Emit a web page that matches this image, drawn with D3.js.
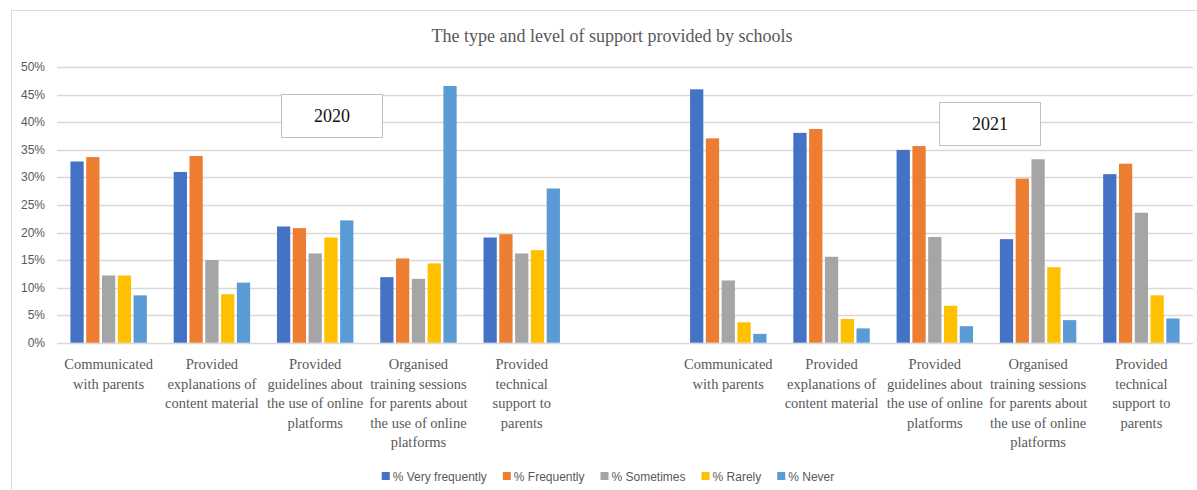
<!DOCTYPE html>
<meta charset="utf-8">
<title>Support provided by schools</title>
<style>
  body { margin: 0; background: #fff; }
  .serif { font-family: 'Palatino Linotype', 'Book Antiqua', 'Liberation Serif', serif; }
  .sans { font-family: 'Liberation Sans', Arial, sans-serif; }
</style>
<body>
<svg width="1197" height="490"></svg>
<script src="https://cdn.jsdelivr.net/npm/d3@7"></script>
<script>
// --- data ---
var years = ["2020", "2021"];
var series = ["% Very frequently", "% Frequently", "% Sometimes", "% Rarely", "% Never"];
var colors = ["#4472C4", "#ED7D31", "#A5A5A5", "#FFC000", "#5B9BD5"];
var labels = [
  ["Communicated", "with parents"],
  ["Provided", "explanations of", "content material"],
  ["Provided", "guidelines about", "the use of online", "platforms"],
  ["Organised", "training sessions", "for parents about", "the use of online", "platforms"],
  ["Provided", "technical", "support to", "parents"]
];
// one row per category, columns follow `series`
var values2020 = [
  [32.9, 33.7, 12.2, 12.2, 8.6],
  [31.0, 33.9, 15.0, 8.8, 10.9],
  [21.1, 20.8, 16.2, 19.1, 22.2],
  [11.9, 15.3, 11.6, 14.4, 46.6],
  [19.1, 19.7, 16.2, 16.8, 28.0]
];
var values2021 = [
  [46.0, 37.1, 11.3, 3.7, 1.6],
  [38.1, 38.8, 15.6, 4.3, 2.6],
  [35.0, 35.7, 19.2, 6.7, 3.0],
  [18.8, 29.8, 33.3, 13.7, 4.1],
  [30.6, 32.5, 23.6, 8.6, 4.4]
];
var yTicks = [0, 5, 10, 15, 20, 25, 30, 35, 40, 45, 50];

// category keys: five for 2020, one empty slot, five for 2021
var rows = [];
labels.forEach(function (l, i) { rows.push({key: "a" + i, lines: l, vals: values2020[i]}); });
rows.push({key: "gap", lines: [], vals: []});
labels.forEach(function (l, i) { rows.push({key: "b" + i, lines: l, vals: values2021[i]}); });

var svg = d3.select("svg");
var grey = "#595959";

// chart frame
svg.append("rect")
  .attr("x", 11.5).attr("y", 10.5).attr("width", 1200).attr("height", 490)
  .attr("fill", "none").attr("stroke", "#D9D9D9");

var x = d3.scaleBand().domain(rows.map(function (d) { return d.key; }))
  .range([57, 1193]).paddingInner(0.26).paddingOuter(0.13);
var xs = d3.scaleBand().domain(series).range([0, x.bandwidth()]).paddingInner(0.16);
var y = d3.scaleLinear().domain([0, 50]).range([342.7, 67.3]);

// grid
svg.append("g").selectAll("line").data(yTicks).enter().append("line")
  .attr("x1", 57).attr("x2", 1193)
  .attr("y1", function (d) { return Math.round(y(d)) + 0.5; })
  .attr("y2", function (d) { return Math.round(y(d)) + 0.5; })
  .attr("stroke", "#D9D9D9").attr("stroke-width", 1.3);

svg.append("g").selectAll("text").data(yTicks).enter().append("text")
  .attr("class", "sans")
  .attr("x", 45).attr("y", function (d) { return y(d) + 4; })
  .attr("text-anchor", "end").attr("font-size", 12).attr("fill", grey)
  .text(function (d) { return d + "%"; });

// bars
var groups = svg.append("g").selectAll("g").data(rows).enter().append("g")
  .attr("transform", function (d) { return "translate(" + x(d.key) + ",0)"; });
groups.selectAll("rect").data(function (d) { return d.vals; }).enter().append("rect")
  .attr("x", function (d, i) { return xs(series[i]); })
  .attr("width", xs.bandwidth())
  .attr("y", function (d) { return y(d); })
  .attr("height", function (d) { return y(0) - y(d); })
  .attr("fill", function (d, i) { return colors[i]; });

// category labels
groups.append("text").attr("class", "serif")
  .attr("text-anchor", "middle").attr("font-size", 14.5).attr("fill", grey)
  .selectAll("tspan").data(function (d) { return d.lines; }).enter().append("tspan")
  .attr("x", x.bandwidth() / 2)
  .attr("y", function (d, i) { return 369 + i * 19.6; })
  .text(function (d) { return d; });

// title
svg.append("text").attr("class", "serif")
  .attr("x", 612).attr("y", 42).attr("text-anchor", "middle")
  .attr("font-size", 18).attr("fill", grey)
  .text("The type and level of support provided by schools");

// year boxes (text boxes placed on the chart)
var boxes = [{x: 281, y: 94, label: years[0]}, {x: 939, y: 102, label: years[1]}];
var bx = svg.append("g").selectAll("g").data(boxes).enter().append("g")
  .attr("transform", function (d) { return "translate(" + d.x + "," + d.y + ")"; });
bx.append("rect").attr("x", 0.5).attr("y", 0.5).attr("width", 101).attr("height", 43)
  .attr("fill", "#fff").attr("stroke", "#BFBFBF");
bx.append("text").attr("class", "serif")
  .attr("x", 51).attr("y", 28).attr("text-anchor", "middle")
  .attr("font-size", 18).attr("fill", "#111")
  .text(function (d) { return d.label; });

// legend
var legend = svg.append("g");
var lx = 0;
series.forEach(function (s, i) {
  var g = legend.append("g").attr("transform", "translate(" + lx + ",0)");
  g.append("rect").attr("x", 0).attr("y", -4).attr("width", 8).attr("height", 8).attr("fill", colors[i]);
  var t = g.append("text").attr("class", "sans").attr("x", 11).attr("y", 4.5)
    .attr("font-size", 12).attr("fill", grey).text(s);
  lx += 11 + t.node().getComputedTextLength() + 16;
});
legend.attr("transform", "translate(" + (608 - (lx - 16) / 2) + ",476)");
</script>
</body>
